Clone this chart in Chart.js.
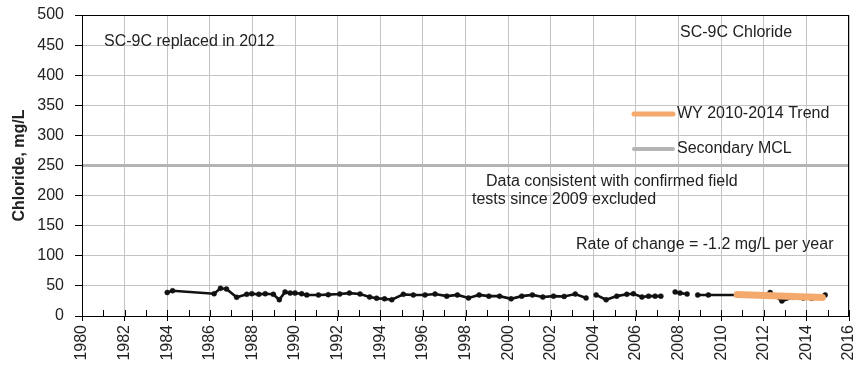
<!DOCTYPE html>
<html>
<head>
<meta charset="utf-8">
<script src="https://cdn.jsdelivr.net/npm/chart.js@4/dist/chart.umd.min.js"></script>
<style>
  html, body { margin: 0; padding: 0; background: #fff; }
  #wrap { width: 861px; height: 368px; }
</style>
</head>
<body>
<div id="wrap"><canvas id="c" width="861" height="368"></canvas></div>
<script>
// SC-9C chloride samples (decimal year, mg/L); null breaks the line
const sampleYears = [
  1984.0, 1984.25, 1986.2, 1986.5, 1986.78, 1987.26, 1987.73, 1987.97, 1988.3, 1988.6,
  1988.98, 1989.26, 1989.53, 1989.77, 1990.0, 1990.31, 1990.55, 1991.1, 1991.56, 1992.1,
  1992.55, 1993.05, 1993.5, 1993.83, 1994.2, 1994.54, 1995.08, 1995.55, 1996.1, 1996.57,
  1997.12, 1997.62, 1998.14, 1998.64, 1999.1, 1999.6, 2000.14, 2000.64, 2001.14, 2001.63,
  2002.13, 2002.63, 2003.15, 2003.66, 2003.9, 2004.13, 2004.6, 2005.1, 2005.57, 2005.88,
  2006.28, 2006.59, 2006.9, 2007.17, 2007.5, 2007.84, 2008.07, 2008.4, 2008.65, 2008.9,
  2009.4, 2010.75, 2011.36, 2011.9, 2012.3, 2012.85, 2013.4, 2013.85, 2014.25, 2014.65,
  2014.88
];
const chlorideValues = [
  39, 42, 37, 46, 45, 31, 36, 37, 36, 37,
  36, 27, 40, 38, 38, 37, 35, 35, 35.5, 36.5,
  38, 36.5, 31.5, 29.5, 28.5, 27, 36, 35, 35, 36.5,
  33, 35, 30, 35, 33, 33, 28.5, 33, 35, 31.5,
  33, 32.5, 36.5, 30, null, 35, 27, 33, 36, 37,
  31.5, 33, 33, 33, null, 40, 38, 36.5, null, 35,
  35, 35, 35, 35, 39, 25, 31, 30, 29.5, 31.5,
  35
];

// WY 2010-2014 linear trend (-1.2 mg/L per year)
const trendYears = [2010.75, 2014.75];
const trendValues = [35.6, 30.8];

// Secondary MCL
const mclYears = [1980, 2016];
const mclValues = [250, 250];

const yTicks = [0, 50, 100, 150, 200, 250, 300, 350, 400, 450, 500];
const xTicks = [1980, 1982, 1984, 1986, 1988, 1990, 1992, 1994, 1996, 1998, 2000, 2002, 2004, 2006, 2008, 2010, 2012, 2014, 2016];

const toPoints = (xs, ys) => xs.map((x, i) => ({ x: x, y: ys[i] }));

const ORANGE = '#f3aa6c';
const MCL_GRAY = '#b4b4b4';
const FONT = '"Liberation Sans", Arial, sans-serif';

const decorations = {
  id: 'decorations',
  afterDraw(chart) {
    const { ctx, chartArea: a, scales } = chart;
    const xs = scales.x;
    ctx.save();

    // frame
    ctx.strokeStyle = '#000';
    ctx.lineWidth = 1;
    ctx.strokeRect(Math.round(a.left) + 0.5, Math.round(a.top) + 0.5,
                   Math.round(a.right - a.left) - 1, Math.round(a.bottom - a.top));

    // yearly tick marks pointing up from the x axis
    ctx.beginPath();
    for (let yr = 1980; yr <= 2016; yr++) {
      const px = Math.round(xs.getPixelForValue(yr)) + 0.5;
      ctx.moveTo(px, a.bottom);
      ctx.lineTo(px, a.bottom - 6);
    }
    ctx.stroke();

    // y axis title
    ctx.fillStyle = '#222';
    ctx.font = 'bold 16px ' + FONT;
    ctx.textAlign = 'center';
    ctx.textBaseline = 'middle';
    ctx.save();
    ctx.translate(20, (a.top + a.bottom) / 2);
    ctx.rotate(-Math.PI / 2);
    ctx.fillText('Chloride, mg/L', 0, 0);
    ctx.restore();

    // notes inside the plot
    ctx.font = '16px ' + FONT;
    ctx.textAlign = 'left';
    ctx.fillText('SC-9C replaced in 2012', 104, 42);
    ctx.fillText('SC-9C Chloride', 680, 33);
    ctx.fillText('Data consistent with confirmed field', 486, 182);
    ctx.fillText('tests since 2009 excluded', 472, 200);
    ctx.fillText('Rate of change = -1.2 mg/L per year', 576, 245);

    // legend
    ctx.lineCap = 'round';
    ctx.lineWidth = 5;
    ctx.strokeStyle = ORANGE;
    ctx.beginPath(); ctx.moveTo(634, 114); ctx.lineTo(673, 114); ctx.stroke();
    ctx.strokeStyle = MCL_GRAY;
    ctx.lineWidth = 4;
    ctx.beginPath(); ctx.moveTo(634, 149); ctx.lineTo(673, 149); ctx.stroke();
    ctx.fillText('WY 2010-2014 Trend', 677, 114);
    ctx.fillText('Secondary MCL', 677, 149);

    ctx.restore();
  }
};

new Chart(document.getElementById('c'), {
  type: 'line',
  data: {
    datasets: [
      {
        label: 'Secondary MCL',
        data: toPoints(mclYears, mclValues),
        borderColor: MCL_GRAY,
        borderWidth: 3,
        pointRadius: 0,
        order: 3
      },
      {
        label: 'SC-9C Chloride',
        data: toPoints(sampleYears, chlorideValues),
        borderColor: '#111',
        backgroundColor: '#111',
        borderWidth: 2.6,
        pointRadius: 2.5,
        pointBorderWidth: 0.5,
        pointHoverRadius: 2.5,
        spanGaps: false,
        order: 2
      },
      {
        label: 'WY 2010-2014 Trend',
        data: toPoints(trendYears, trendValues),
        borderColor: ORANGE,
        borderWidth: 7,
        borderCapStyle: 'round',
        pointRadius: 0,
        order: 1
      }
    ]
  },
  options: {
    responsive: false,
    animation: false,
    events: [],
    layout: { padding: { top: 15, right: 12, left: 0, bottom: 0 } },
    plugins: {
      legend: { display: false },
      tooltip: { enabled: false }
    },
    scales: {
      x: {
        type: 'linear',
        min: 1980,
        max: 2016,
        afterBuildTicks: (s) => { s.ticks = xTicks.map(v => ({ value: v })); },
        afterFit: (s) => { s.height = 52; s.paddingLeft = 0; s.paddingRight = 0; },
        grid: { color: '#c4c4c4', lineWidth: 1, tickColor: '#000', tickLength: 5 },
        border: { color: '#000', width: 1 },
        ticks: {
          minRotation: 90,
          maxRotation: 90,
          padding: 4,
          color: '#222',
          font: { family: FONT, size: 16 },
          callback: (v) => String(v)
        }
      },
      y: {
        min: 0,
        max: 500,
        afterBuildTicks: (s) => { s.ticks = yTicks.map(v => ({ value: v })); },
        afterFit: (s) => { s.width = 82; s.paddingTop = 0; s.paddingBottom = 0; },
        grid: { color: '#c4c4c4', lineWidth: 1, tickColor: '#000', tickLength: 7 },
        border: { color: '#000', width: 1 },
        ticks: {
          padding: 11,
          color: '#222',
          font: { family: FONT, size: 16 },
          callback: (v) => String(v)
        }
      }
    }
  },
  plugins: [decorations]
});
</script>
</body>
</html>
